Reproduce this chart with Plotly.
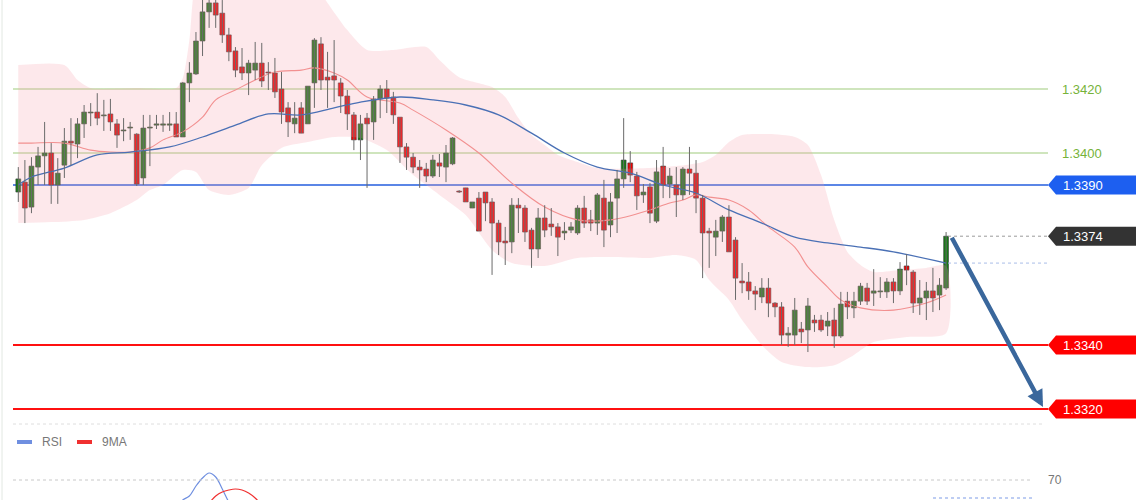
import plotly.graph_objects as go

# ---------------- data ----------------
bars = list(range(142))
open_ = [1.33878,1.33909,1.33831,1.33956,1.33991,1.34000,1.33900,1.33962,1.34037,1.34028,
         1.34091,1.34125,1.34128,1.34116,1.34122,1.34091,1.34069,1.34078,1.34059,1.33922,
         1.34078,1.34087,1.34087,1.34087,1.34091,1.34050,1.34219,1.34247,1.34350,1.34441,
         1.34469,1.34437,1.34369,1.34319,1.34269,1.34250,1.34259,1.34281,1.34253,1.34250,
         1.34200,1.34141,1.34091,1.34141,1.34091,1.34219,1.34341,1.34237,1.34241,1.34219,
         1.34178,1.34119,1.34041,1.34109,1.34097,1.34169,1.34200,1.34175,1.34112,1.34019,
         1.33987,1.33956,1.33950,1.33928,1.33969,1.33956,1.33966,1.33881,1.33891,1.33828,
         1.33859,1.33878,1.33847,1.33781,1.33725,1.33722,1.33837,1.33828,1.33759,1.33700,
         1.33797,1.33778,1.33769,1.33750,1.33759,1.33750,1.33828,1.33791,1.33781,1.33859,
         1.33775,1.33859,1.33919,1.33969,1.33928,1.33869,1.33894,1.33787,1.33959,1.33903,
         1.33900,1.33869,1.33950,1.33937,1.33859,1.33756,1.33737,1.33756,1.33800,1.33728,
         1.33600,1.33597,1.33569,1.33550,1.33578,1.33531,1.33519,1.33431,1.33431,1.33450,
         1.33447,1.33478,1.33478,1.33459,1.33478,1.33428,1.33537,1.33516,1.33537,1.33578,
         1.33562,1.33566,1.33566,1.33597,1.33569,1.33647,1.33628,1.33531,1.33547,1.33569,
         1.33556,1.33578]
high_ = [1.33956,1.33978,1.33987,1.34019,1.34097,1.34031,1.33984,1.34078,1.34109,1.34109,
         1.34150,1.34156,1.34187,1.34166,1.34169,1.34106,1.34109,1.34097,1.34062,1.34119,
         1.34119,1.34119,1.34119,1.34128,1.34128,1.34222,1.34284,1.34378,1.34484,1.34487,
         1.34487,1.34478,1.34391,1.34331,1.34328,1.34291,1.34347,1.34344,1.34284,1.34297,
         1.34253,1.34159,1.34159,1.34159,1.34209,1.34359,1.34362,1.34316,1.34353,1.34234,
         1.34197,1.34128,1.34119,1.34125,1.34178,1.34212,1.34228,1.34191,1.34112,1.34031,
         1.34000,1.33978,1.33969,1.33994,1.33997,1.34025,1.34050,1.33884,1.33891,1.33847,
         1.33878,1.33878,1.33859,1.33791,1.33769,1.33859,1.33859,1.33837,1.33766,1.33828,
         1.33837,1.33828,1.33781,1.33784,1.33784,1.33837,1.33866,1.33822,1.33875,1.33916,
         1.33875,1.33947,1.34109,1.34006,1.33941,1.33903,1.33906,1.33978,1.34019,1.33953,
         1.33956,1.33956,1.34019,1.33978,1.33869,1.33766,1.33791,1.33806,1.33837,1.33737,
         1.33656,1.33628,1.33584,1.33609,1.33609,1.33534,1.33534,1.33456,1.33547,1.33472,
         1.33547,1.33494,1.33494,1.33503,1.33516,1.33566,1.33566,1.33566,1.33594,1.33594,
         1.33637,1.33612,1.33609,1.33609,1.33659,1.33684,1.33634,1.33603,1.33597,1.33641,
         1.33609,1.33753]
low_ = [1.33847,1.33781,1.33812,1.33900,1.33900,1.33841,1.33841,1.33922,1.33962,1.33984,
        1.34047,1.34084,1.34087,1.34069,1.34069,1.34016,1.34037,1.34041,1.33897,1.33900,
        1.33959,1.34075,1.34066,1.34069,1.34050,1.34050,1.34159,1.34244,1.34303,1.34391,
        1.34391,1.34344,1.34287,1.34237,1.34228,1.34181,1.34228,1.34206,1.34197,1.34172,
        1.34091,1.34050,1.34062,1.34062,1.34091,1.34141,1.34197,1.34141,1.34159,1.34125,
        1.34072,1.34009,1.33978,1.33891,1.34041,1.34109,1.34125,1.34091,1.33969,1.33947,
        1.33937,1.33891,1.33909,1.33922,1.33925,1.33909,1.33962,1.33875,1.33847,1.33828,
        1.33756,1.33787,1.33619,1.33681,1.33650,1.33687,1.33750,1.33722,1.33641,1.33672,
        1.33737,1.33741,1.33678,1.33728,1.33750,1.33744,1.33766,1.33756,1.33744,1.33706,
        1.33737,1.33750,1.33891,1.33909,1.33822,1.33844,1.33781,1.33781,1.33859,1.33859,
        1.33800,1.33853,1.33869,1.33812,1.33609,1.33641,1.33678,1.33722,1.33691,1.33541,
        1.33562,1.33541,1.33509,1.33531,1.33487,1.33487,1.33400,1.33394,1.33400,1.33406,
        1.33378,1.33441,1.33441,1.33428,1.33391,1.33422,1.33481,1.33484,1.33525,1.33525,
        1.33522,1.33547,1.33547,1.33531,1.33556,1.33587,1.33500,1.33494,1.33478,1.33503,
        1.33509,1.33572]
close_ = [1.33919,1.33828,1.33959,1.33991,1.34000,1.33900,1.33937,1.34037,1.34031,1.34091,
          1.34128,1.34128,1.34109,1.34119,1.34097,1.34056,1.34072,1.34081,1.33903,1.34078,
          1.34081,1.34091,1.34091,1.34091,1.34050,1.34219,1.34250,1.34350,1.34441,1.34469,
          1.34431,1.34369,1.34316,1.34259,1.34250,1.34281,1.34281,1.34225,1.34250,1.34191,
          1.34128,1.34097,1.34109,1.34062,1.34209,1.34353,1.34228,1.34228,1.34228,1.34178,
          1.34122,1.34041,1.34091,1.34091,1.34169,1.34200,1.34172,1.34119,1.34019,1.33987,
          1.33956,1.33947,1.33928,1.33978,1.33959,1.34000,1.34047,1.33878,1.33847,1.33847,
          1.33756,1.33844,1.33781,1.33722,1.33719,1.33837,1.33828,1.33753,1.33700,1.33797,
          1.33759,1.33769,1.33737,1.33756,1.33769,1.33828,1.33781,1.33781,1.33869,1.33759,
          1.33847,1.33919,1.33978,1.33931,1.33866,1.33878,1.33812,1.33941,1.33900,1.33928,
          1.33869,1.33950,1.33937,1.33859,1.33750,1.33750,1.33756,1.33800,1.33691,1.33609,
          1.33594,1.33569,1.33559,1.33578,1.33531,1.33519,1.33431,1.33437,1.33509,1.33441,
          1.33522,1.33469,1.33447,1.33475,1.33428,1.33528,1.33519,1.33537,1.33584,1.33537,
          1.33569,1.33569,1.33597,1.33569,1.33637,1.33634,1.33531,1.33547,1.33569,1.33547,
          1.33587,1.33740]

bb_upper_x = [0, 7, 9, 11, 18, 24, 25, 26, 27, 30, 35, 40, 44, 47, 50, 53, 57, 62, 64, 67,
              72, 74, 76, 78, 80, 82, 85, 88, 96, 100, 104, 106, 108, 110, 114, 118, 120,
              122, 124, 126, 128, 130, 134, 138, 141]
bb_upper = [1.34275, 1.34275, 1.34228, 1.34203, 1.34203, 1.34203, 1.34234, 1.34353, 1.34541,
            1.34650, 1.34666, 1.34634, 1.34556, 1.34469, 1.34384, 1.34322, 1.34322, 1.34331,
            1.34291, 1.34237, 1.34206, 1.34175, 1.34109, 1.34056, 1.34025, 1.33994, 1.33972,
            1.33953, 1.33953, 1.33959, 1.33972, 1.33994, 1.34034, 1.34056, 1.34059, 1.34050,
            1.34025, 1.33931, 1.33791, 1.33691, 1.33650, 1.33628, 1.33634, 1.33641, 1.33647]
bb_lower_x = [0, 5, 10, 14, 18, 20, 22, 25, 27, 29, 32, 35, 37, 40, 44, 48, 52, 56, 60, 64,
              68, 72, 75, 80, 85, 90, 96, 100, 103, 105, 108, 110, 113, 116, 120, 124, 127,
              130, 135, 141]
bb_lower = [1.33781, 1.33784, 1.33791, 1.33812, 1.33853, 1.33884, 1.33900, 1.33947, 1.33941,
            1.33884, 1.33869, 1.33891, 1.33962, 1.34016, 1.34034, 1.34050, 1.34047, 1.34009,
            1.33931, 1.33869, 1.33806, 1.33697, 1.33656, 1.33647, 1.33672, 1.33675, 1.33672,
            1.33681, 1.33666, 1.33603, 1.33541, 1.33478, 1.33400, 1.33347, 1.33331, 1.33337,
            1.33369, 1.33409, 1.33425, 1.33437]

ma_fast_x = [0, 2, 7, 11, 14, 17, 20, 22, 25, 28, 30, 33, 36, 39, 43, 45, 48, 50, 53, 58,
             60, 65, 70, 75, 80, 85, 90, 96, 99, 101, 103, 105, 108, 111, 114, 118, 120, 123,
             125, 128, 133, 138, 141]
ma_fast = [1.34031, 1.34031, 1.34031, 1.34009, 1.34003, 1.34003, 1.34016, 1.34041, 1.34066,
           1.34112, 1.34166, 1.34197, 1.34228, 1.34253, 1.34259, 1.34266, 1.34250, 1.34228,
           1.34175, 1.34156, 1.34134, 1.34072, 1.34000, 1.33906, 1.33831, 1.33791, 1.33791,
           1.33822, 1.33844, 1.33853, 1.33869, 1.33862, 1.33853, 1.33822, 1.33769, 1.33706,
           1.33644, 1.33581, 1.33541, 1.33516, 1.33509, 1.33531, 1.33556]
ma_slow_x = [0, 2, 7, 12, 17, 23, 28, 33, 38, 43, 48, 52, 58, 63, 68, 73, 78, 83, 88, 93,
             98, 103, 108, 113, 118, 123, 128, 133, 141]
ma_slow = [1.33900, 1.33925, 1.33953, 1.33994, 1.34003, 1.34019, 1.34050, 1.34087, 1.34122,
           1.34119, 1.34141, 1.34159, 1.34175, 1.34166, 1.34150, 1.34119, 1.34062, 1.34000,
           1.33956, 1.33937, 1.33900, 1.33875, 1.33822, 1.33781, 1.33737, 1.33719, 1.33706,
           1.33691, 1.33656]

rsi_x = [24, 25, 26, 27, 28, 29, 30, 31, 32, 33]
rsi = [56, 60, 62, 67, 71, 73.5, 71.5, 65.5, 59, 55]
rsi_ma_x = [28, 29, 30, 31, 32, 33, 34, 35, 36, 37, 38]
rsi_ma = [55, 58.5, 62, 64, 65, 65.5, 65, 63.5, 61, 57.5, 54]
rsi_last = 61
rsi_levels = [70]

resistances = [1.3420, 1.3400]
pivot = 1.3390
supports = [1.3340, 1.3320]
last_price = close_[-1]

# ---------------- layout helpers ----------------
W, H = 1140, 500
PX0, PXB = 18.3, 6.58          # pixel of first bar, pixels per bar
PPP = 1 / 32000                # price per pixel
PTOP = 1.3400 + 153 * PPP      # price at top edge
MAIN_H = 425                   # main panel height in px

def xd(px):
    return (px - PX0) / PXB

def yp(py):
    return 1 - py / H

FONT = "Liberation Sans"
UP, DOWN, WICK = "#167a16", "#f40000", "#6a6a6a"

fig = go.Figure()

# Bollinger band
fig.add_trace(go.Scatter(
    x=bb_upper_x + bb_lower_x[::-1], y=bb_upper + bb_lower[::-1],
    fill="toself", fillcolor="rgba(246,160,172,0.24)", mode="lines",
    line=dict(width=0, shape="spline", smoothing=0.7), hoverinfo="skip", showlegend=False))

fig.add_trace(go.Scatter(x=ma_fast_x, y=ma_fast, mode="lines",
                         line=dict(color="#f29090", width=1.1, shape="spline"),
                         hoverinfo="skip", showlegend=False))
fig.add_trace(go.Scatter(x=ma_slow_x, y=ma_slow, mode="lines",
                         line=dict(color="#4a70b5", width=1.3, shape="spline"),
                         hoverinfo="skip", showlegend=False))

# wicks
wx, wy = [], []
for i, h, l in zip(bars, high_, low_):
    wx += [i, i, None]
    wy += [l, h, None]
fig.add_trace(go.Scatter(x=wx, y=wy, mode="lines", line=dict(color=WICK, width=1),
                         hoverinfo="skip", showlegend=False))

# bodies
body_base = [min(o, c) for o, c in zip(open_, close_)]
body_len = [max(abs(c - o), 0.00003) for o, c in zip(open_, close_)]
body_col = [UP if c >= o else DOWN for o, c in zip(open_, close_)]
fig.add_trace(go.Bar(x=bars, y=body_len, base=body_base, width=0.74,
                     marker=dict(color=body_col, line=dict(color="#3c3c3c", width=0.6)),
                     hoverinfo="skip", showlegend=False))

# RSI panel
fig.add_trace(go.Scatter(x=rsi_x, y=rsi, yaxis="y2", mode="lines",
                         line=dict(color="#6f8fe0", width=1.2, shape="spline"),
                         hoverinfo="skip", showlegend=False))
fig.add_trace(go.Scatter(x=rsi_ma_x, y=rsi_ma, yaxis="y2", mode="lines",
                         line=dict(color="#f03030", width=1.2, shape="spline"),
                         hoverinfo="skip", showlegend=False))

shapes = []
annotations = []

# left edge line
shapes.append(dict(type="line", xref="paper", yref="paper", x0=2 / W, x1=2 / W, y0=0, y1=1,
                   line=dict(color="#e2e8e2", width=1)))
# bottom dotted line of main panel
shapes.append(dict(type="line", xref="paper", yref="paper", x0=13 / W, x1=1045 / W,
                   y0=yp(424), y1=yp(424), line=dict(color="#dedede", width=1, dash="dot")))

x_l, x_r = xd(13), xd(1048)
for lvl in resistances:
    shapes.append(dict(type="line", xref="x", yref="y", x0=x_l, x1=x_r, y0=lvl, y1=lvl,
                       layer="below", line=dict(color="#cfe5bd", width=2)))
    annotations.append(dict(x=xd(1060), y=lvl, xref="x", yref="y", text=f"{lvl:.4f}",
                            showarrow=False, xanchor="left", yanchor="middle",
                            font=dict(family=FONT, size=13, color="#76b33a")))

shapes.append(dict(type="line", xref="x", yref="y", x0=x_l, x1=x_r, y0=pivot, y1=pivot,
                   layer="below", line=dict(color="#5b86e6", width=2)))
for lvl in supports:
    shapes.append(dict(type="line", xref="x", yref="y", x0=x_l, x1=x_r, y0=lvl, y1=lvl,
                       layer="below", line=dict(color="#ff1010", width=2)))

# dotted last-price and slow-MA lines
shapes.append(dict(type="line", xref="x", yref="y", x0=xd(948), x1=x_r, y0=last_price,
                   y1=last_price, line=dict(color="#9a9a9a", width=1, dash="dot")))
shapes.append(dict(type="line", xref="x", yref="y", x0=xd(948), x1=x_r, y0=ma_slow[-1],
                   y1=ma_slow[-1], line=dict(color="#a9bde8", width=1, dash="dot")))

def tag(level, color):
    h = 9.5 * PPP
    tip, x1, xr = xd(1048), xd(1056), xd(1136)
    path = (f"M {tip},{level} L {x1},{level + h} L {xr},{level + h} "
            f"L {xr},{level - h} L {x1},{level - h} Z")
    shapes.append(dict(type="path", xref="x", yref="y", path=path, fillcolor=color,
                       line=dict(width=0)))
    annotations.append(dict(x=xd(1061), y=level, xref="x", yref="y", text=f"{level:.4f}",
                            showarrow=False, xanchor="left", yanchor="middle",
                            font=dict(family=FONT, size=13, color="white")))

tag(pivot, "#1d5ff0")
tag(last_price, "#333333")
for lvl in supports:
    tag(lvl, "#ff0000")

# forecast arrow
annotations.append(dict(x=xd(1043), y=supports[1] + 2 * PPP, xref="x", yref="y",
                        ax=xd(951), ay=last_price, axref="x", ayref="y", text="",
                        showarrow=True, arrowhead=2, arrowsize=0.75, arrowwidth=4.5,
                        arrowcolor="#3a679c", standoff=0, startstandoff=0))

# RSI panel elements
for lvl in rsi_levels:
    shapes.append(dict(type="line", xref="x", yref="y2", x0=x_l, x1=xd(1032), y0=lvl, y1=lvl,
                       line=dict(color="#c8c8c8", width=1, dash="dot")))
    annotations.append(dict(x=xd(1046), y=lvl, xref="x", yref="y2", text=str(lvl),
                            showarrow=False, xanchor="left", yanchor="middle",
                            font=dict(family=FONT, size=12, color="#777777")))
shapes.append(dict(type="line", xref="x", yref="y2", x0=xd(933), x1=xd(1033), y0=rsi_last,
                   y1=rsi_last, line=dict(color="#7d9be6", width=1, dash="dot")))

# RSI legend
for (x0, x1, col, label, tx) in [(17, 32, "#6f8fe0", "RSI", 40), (77, 92, "#f03030", "9MA", 100)]:
    shapes.append(dict(type="line", xref="paper", yref="paper", x0=x0 / W, x1=x1 / W,
                       y0=yp(442), y1=yp(442), line=dict(color=col, width=4)))
    annotations.append(dict(x=tx / W, y=yp(442), xref="paper", yref="paper", text=label,
                            showarrow=False, xanchor="left", yanchor="middle",
                            font=dict(family=FONT, size=12, color="#777777")))

fig.update_layout(
    width=W, height=H, margin=dict(l=0, r=0, t=0, b=0),
    paper_bgcolor="white", plot_bgcolor="white",
    showlegend=False, shapes=shapes, annotations=annotations,
    xaxis=dict(range=[xd(0), xd(W)], visible=False, showgrid=False, zeroline=False),
    yaxis=dict(range=[PTOP - MAIN_H * PPP, PTOP], domain=[1 - MAIN_H / H, 1], visible=False,
               showgrid=False, zeroline=False),
    yaxis2=dict(range=[60, 90], domain=[0, 0.12], visible=False, showgrid=False,
                zeroline=False, anchor="x"),
)

fig.write_html("out.html")
